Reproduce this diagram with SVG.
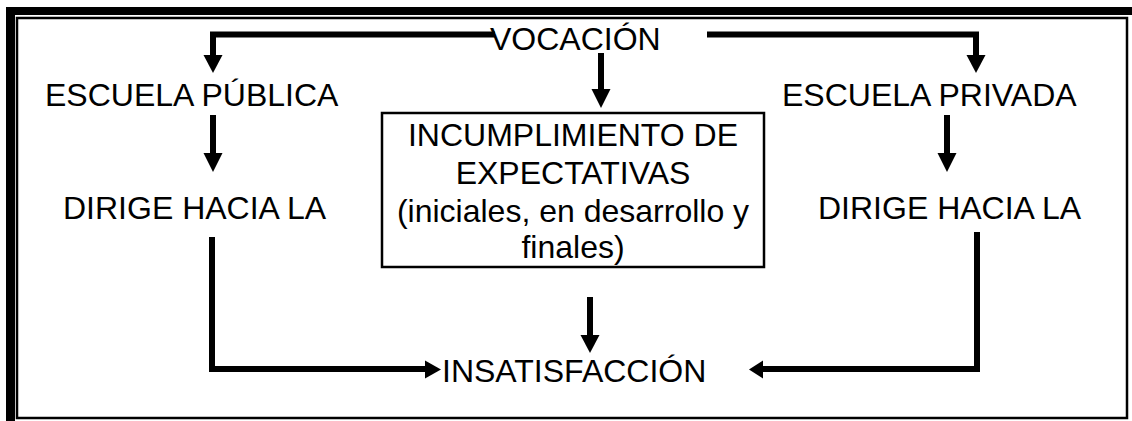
<svg xmlns="http://www.w3.org/2000/svg" width="1132" height="421" viewBox="0 0 1132 421">
<style>
.t{font-family:"Liberation Sans",Arial,sans-serif;font-size:32px;fill:#000}
.c{text-anchor:middle}
.ln{fill:none;stroke:#000;stroke-width:6;stroke-linejoin:miter;stroke-linecap:butt}
.hd{fill:#000}
</style>
<rect width="1132" height="421" fill="#fff"/>
<g id="frame">
<rect x="6" y="7" width="1126" height="8" fill="#000"/>
<rect x="6" y="7" width="9" height="414" fill="#000"/>
<rect x="17" y="18" width="1110" height="400" fill="none" stroke="#000" stroke-width="2.5"/>
</g>
<g id="connectors">
<path class="ln" d="M495,34.5 H213 V56"/>
<polygon class="hd" points="203.5,55 222.5,55 213,73"/>
<path class="ln" d="M707,34.5 H976 V56"/>
<polygon class="hd" points="966.5,55 985.5,55 976,73"/>
<path class="ln" d="M601,53 V90"/>
<polygon class="hd" points="591.5,89 610.5,89 601,108"/>
<path class="ln" d="M213,115 V154"/>
<polygon class="hd" points="203.5,153 222.5,153 213,172"/>
<path class="ln" d="M947,115 V154"/>
<polygon class="hd" points="937.5,153 956.5,153 947,172"/>
<path class="ln" d="M212,237 V369 H426"/>
<polygon class="hd" points="425,360.5 425,378.5 441,369.5"/>
<path class="ln" d="M977,232 V369 H762"/>
<polygon class="hd" points="763,360.5 763,378.5 749,369.5"/>
<path class="ln" d="M590,297 V336"/>
<polygon class="hd" points="580.5,335 599.5,335 590,353"/>
</g>
<g id="vocacion"><text class="t" x="490" y="50">VOCACIÓN</text></g>
<g id="escuela-publica"><text class="t" x="45" y="106">ESCUELA PÚBLICA</text></g>
<g id="escuela-privada"><text class="t" x="782" y="106">ESCUELA PRIVADA</text></g>
<g id="dirige-izq"><text class="t" x="63" y="219">DIRIGE HACIA LA</text></g>
<g id="dirige-der"><text class="t" x="818" y="219">DIRIGE HACIA LA</text></g>
<g id="incumplimiento">
<rect x="382" y="113" width="382" height="154" fill="#fff" stroke="#000" stroke-width="2.5"/>
<text class="t c" x="573" y="146">INCUMPLIMIENTO DE</text>
<text class="t c" x="573" y="184">EXPECTATIVAS</text>
<text class="t c" x="573" y="222">(iniciales, en desarrollo y</text>
<text class="t c" x="573" y="258">finales)</text>
</g>
<g id="insatisfaccion"><text class="t" x="442" y="382">INSATISFACCIÓN</text></g>
</svg>
